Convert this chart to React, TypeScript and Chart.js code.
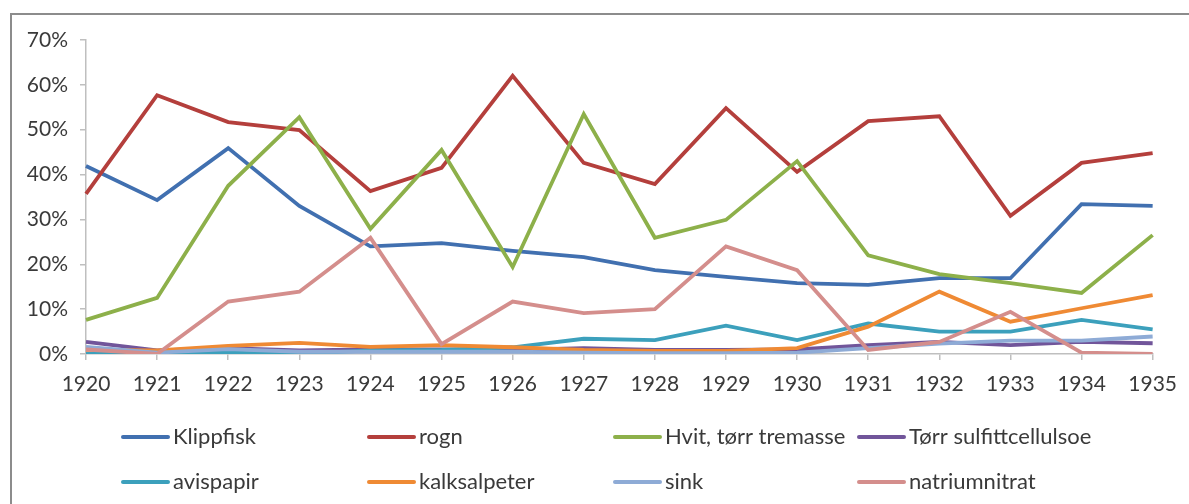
import React, { useEffect, useRef } from "react";
import { Chart, registerables } from "chart.js";

Chart.register(...registerables);

const years = ["1920", "1921", "1922", "1923", "1924", "1925", "1926", "1927", "1928", "1929", "1930", "1931", "1932", "1933", "1934", "1935"];

const klippfisk = [41.9, 34.3, 45.9, 33.0, 24.0, 24.7, 23.0, 21.6, 18.7, 17.2, 15.8, 15.4, 16.9, 16.9, 33.4, 33.0];
const rogn = [35.7, 57.7, 51.7, 49.9, 36.3, 41.5, 62.0, 42.6, 37.9, 54.8, 40.6, 51.9, 53.0, 30.8, 42.6, 44.8];
const hvitTorrTremasse = [7.6, 12.5, 37.5, 52.8, 27.9, 45.5, 19.4, 53.5, 25.9, 29.9, 43.0, 22.0, 17.8, 15.8, 13.6, 26.5];
const torrSulfittcellulose = [2.7, 0.8, 1.3, 0.8, 1.0, 1.0, 0.9, 1.3, 0.9, 0.9, 1.0, 2.0, 2.7, 2.0, 2.7, 2.4];
const avispapir = [0.0, 0.0, 0.3, 0.0, 0.8, 0.9, 1.5, 3.4, 3.1, 6.3, 3.1, 6.8, 5.0, 5.0, 7.6, 5.5];
const kalksalpeter = [0.9, 0.8, 1.8, 2.5, 1.6, 2.0, 1.5, 0.9, 0.7, 0.7, 1.3, 6.1, 13.9, 7.2, 10.2, 13.1];
const sink = [1.6, 0.3, 1.1, 0.5, 0.5, 0.5, 0.5, 0.3, 0.2, 0.2, 0.3, 1.3, 2.3, 3.0, 3.0, 3.9];
const natriumnitrat = [1.0, 0.0, 11.7, 13.9, 25.9, 2.2, 11.7, 9.1, 10.0, 24.0, 18.7, 0.9, 2.7, 9.4, 0.3, 0.0];

const seriesNames = ["Klippfisk", "rogn", "Hvit, tørr tremasse", "Tørr sulfittcellulsoe", "avispapir", "kalksalpeter", "sink", "natriumnitrat"];
const seriesValues = [klippfisk, rogn, hvitTorrTremasse, torrSulfittcellulose, avispapir, kalksalpeter, sink, natriumnitrat];
const seriesColors = ["#4170B0", "#B43F3C", "#8DB04A", "#71559A", "#3CA0BC", "#EF8A34", "#8EABD6", "#D48E8C"];

const yTicks = [0, 10, 20, 30, 40, 50, 60, 70];

const FONT = "Lato, 'Open Sans', sans-serif";
const TEXT_COLOR = "#3a3a3a";

const legendPlugin = {
  id: "gridLegend",
  afterDraw(chart: any) {
    const ctx = chart.ctx;
    const cols = [121, 367, 613, 857];
    const rows = [437, 482];
    const lineLen = 49;
    ctx.save();
    ctx.font = `22px ${FONT}`;
    ctx.textBaseline = "middle";
    ctx.textAlign = "left";
    chart.data.datasets.forEach((ds: any, i: number) => {
      const x = cols[i % 4];
      const y = rows[Math.floor(i / 4)];
      ctx.strokeStyle = ds.borderColor;
      ctx.lineWidth = 4;
      ctx.lineCap = "round";
      ctx.beginPath();
      ctx.moveTo(x + 2, y);
      ctx.lineTo(x + lineLen - 2, y);
      ctx.stroke();
      ctx.fillStyle = TEXT_COLOR;
      ctx.fillText(ds.label, x + lineLen + 3, y);
    });
    ctx.restore();
  },
};

export default function App() {
  const ref = useRef<HTMLCanvasElement | null>(null);

  useEffect(() => {
    if (!ref.current) return;
    const chart = new Chart(ref.current, {
      type: "line",
      data: {
        labels: years,
        datasets: seriesNames.map((name, i) => ({
          label: name,
          data: seriesValues[i],
          borderColor: seriesColors[i],
          backgroundColor: seriesColors[i],
          borderWidth: 3.8,
          pointRadius: 0,
          tension: 0,
          fill: false,
          order: seriesNames.length - i,
        })),
      },
      options: {
        animation: false,
        responsive: false,
        maintainAspectRatio: false,
        layout: { padding: { left: 0, top: 40, right: 36, bottom: 0 } },
        plugins: {
          legend: { display: false },
          tooltip: { enabled: false },
          title: { display: false },
        },
        scales: {
          x: {
            type: "category",
            offset: false,
            grid: { drawOnChartArea: false, drawTicks: true, tickLength: 6, color: "#bfbfbf", lineWidth: 1.5 },
            border: { color: "#bfbfbf", width: 1.5 },
            ticks: { color: TEXT_COLOR, font: { family: FONT, size: 21 }, padding: 12, autoSkip: false, maxRotation: 0 },
            afterFit: (s: any) => { s.height = 150; },
          },
          y: {
            min: 0,
            max: 70,
            afterBuildTicks: (s: any) => { s.ticks = yTicks.map((v) => ({ value: v })); },
            grid: { drawOnChartArea: false, drawTicks: true, tickLength: 6, color: "#bfbfbf", lineWidth: 1.5 },
            border: { color: "#bfbfbf", width: 1.5 },
            ticks: { color: TEXT_COLOR, font: { family: FONT, size: 21 }, padding: 12, callback: (v: any) => `${v}%` },
            afterFit: (s: any) => { s.width = 86; },
          },
        },
      },
      plugins: [legendPlugin],
    });
    return () => chart.destroy();
  }, []);

  return (
    <div style={{ position: "fixed", left: 0, top: 0, width: 1189, height: 504, overflow: "hidden", background: "#fff" }}>
      <div style={{ position: "absolute", left: 10, top: 13, width: 1200, height: 520, border: "2px solid #8c8c8c", boxSizing: "border-box" }} />
      <canvas ref={ref} width={1189} height={504} style={{ position: "absolute", left: 0, top: 0, width: 1189, height: 504 }} />
    </div>
  );
}
